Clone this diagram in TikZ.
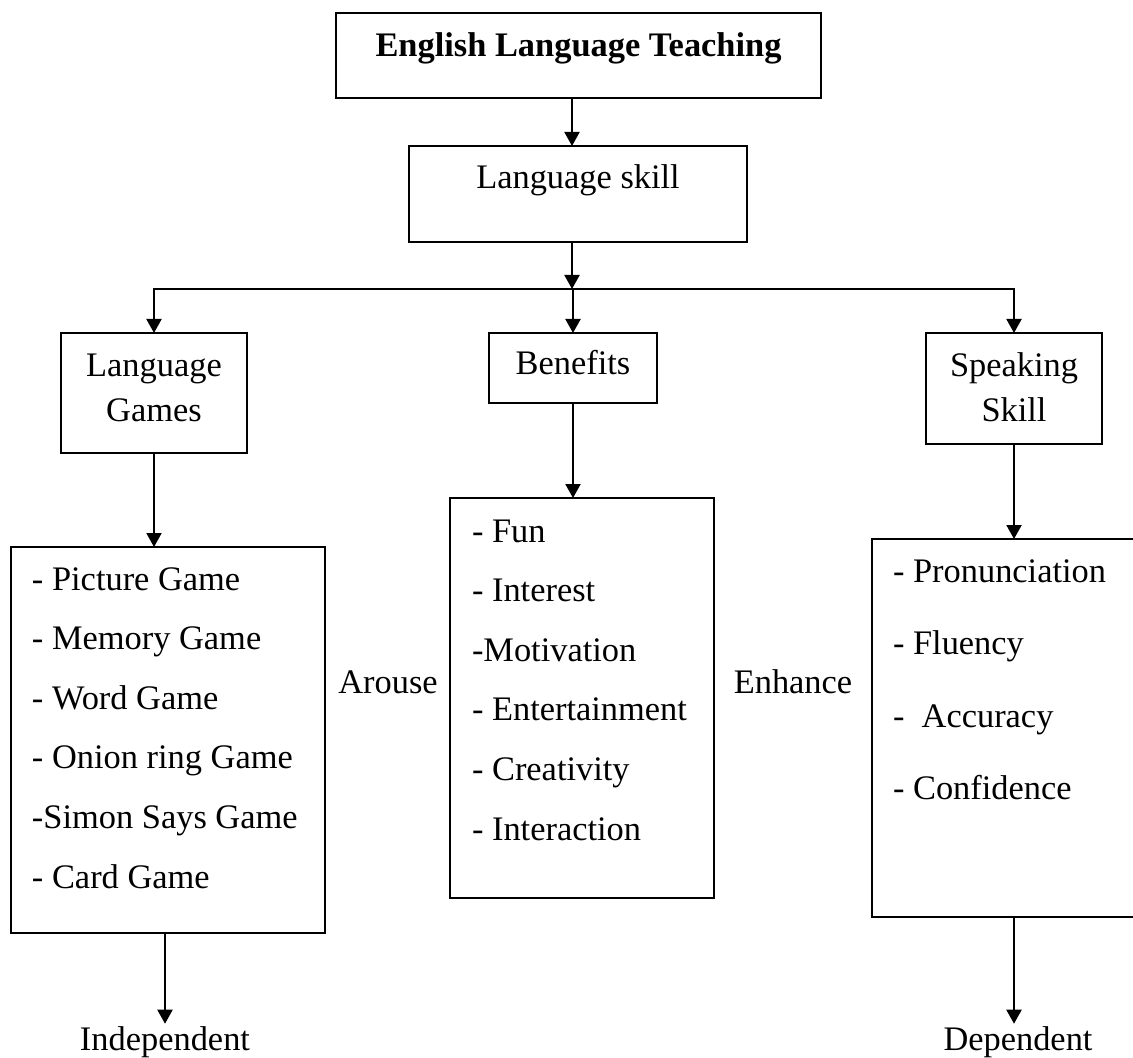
\documentclass[tikz,border=0pt]{standalone}
\usepackage{fontspec}
\setmainfont{Liberation Serif}
\usetikzlibrary{arrows.meta}
\tikzset{
  box/.style={draw,line width=1pt,inner sep=0pt,outer sep=0pt,anchor=north},
  listbox/.style={draw,line width=1pt,inner xsep=10.5pt,inner ysep=0pt,outer sep=0pt,anchor=north west,align=flush left,font=\fontsize{17.2}{29.8}\selectfont},
  arr/.style={line width=1pt,-{Triangle[width=7.5pt,length=7pt]}}
}
\begin{document}
\begin{tikzpicture}[x=0.5pt,y=-0.5pt,every node/.style={font=\fontsize{17.2}{22.5}\selectfont}]
\useasboundingbox(0,0)rectangle(1133,1058);
\clip(0,0)rectangle(1133,1058);
\node[box,minimum width=242.5pt,text height=22pt,text depth=20.5pt](elt)at(578.5,13){\bfseries English Language Teaching};
\node[box,minimum width=169pt,text height=21.5pt,text depth=26.5pt](skill)at(578,146){Language skill};
\node[box,text width=93pt,align=flush center,text height=22pt,text depth=38pt](games)at(154,333){Language\\Games};
\node[box,minimum width=84pt,text height=21pt,text depth=14pt](benefits)at(573,333){Benefits};
\node[box,text width=88pt,align=flush center,text height=22pt,text depth=33.5pt](speak)at(1014,333){Speaking\\Skill};
\node[listbox,text width=136pt,text height=21.5pt,text depth=171.5pt](gamelist)at(11,547){- Picture Game\\- Memory Game\\- Word Game\\- Onion ring Game\\-Simon Says Game\\- Card Game};
\node[listbox,inner xsep=11pt,text width=110pt,text height=22pt,text depth=178pt](benlist)at(450,498){- Fun\\- Interest\\-Motivation\\- Entertainment\\- Creativity\\- Interaction};
\node[listbox,text width=114pt,text height=21.5pt,text depth=167.5pt,font=\fontsize{17.2}{36.3}\selectfont](speaklist)at(872,539){- Pronunciation\\- Fluency\\- \ Accuracy\\- Confidence};
\node[anchor=base](arouse)at(388,693){Arouse};
\node[anchor=base](enhance)at(793,693){Enhance};
\node[anchor=base,inner sep=1pt](indep)at(165,1050){Independent};
\node[anchor=base,inner sep=1pt](dep)at(1018,1050){Dependent};
\coordinate(split)at(572,289);
\draw[arr](split|-elt.south)--(split|-skill.north);
\draw[arr](split|-skill.south)--(split);
\draw[arr](split)-|(games.north);
\draw[arr](split)-|(speak.north);
\draw[arr](benefits.north|-split)--(benefits.north);
\draw[arr](games.south)--(games.south|-gamelist.north);
\draw[arr](benefits.south)--(benefits.south|-benlist.north);
\draw[arr](speak.south)--(speak.south|-speaklist.north);
\draw[arr](indep|-gamelist.south)--(indep.north);
\draw[arr](speak.south|-speaklist.south)--(speak.south|-dep.north);
\end{tikzpicture}
\end{document}
